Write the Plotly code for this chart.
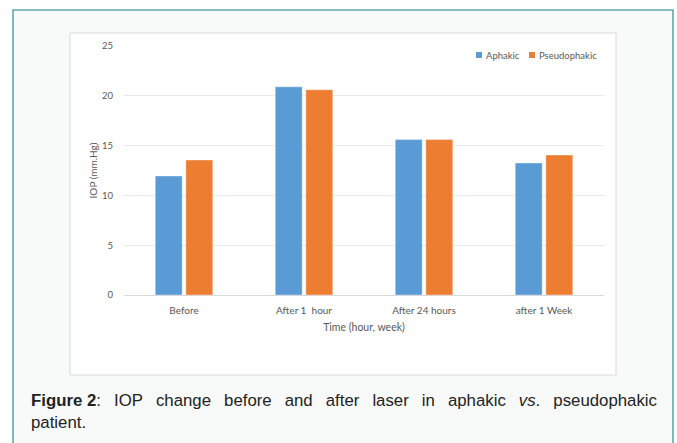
import plotly.graph_objects as go

# Intraocular pressure (mm Hg) at each time point
categories = ["Before", "After 1  hour", "After 24 hours", "after 1 Week"]
aphakic = [11.95, 20.9, 15.6, 13.25]
pseudophakic = [13.55, 20.6, 15.6, 14.05]
series_names = ["Aphakic", "Pseudophakic"]
y_ticks = [0, 5, 10, 15, 20, 25]

W, H = 677, 443
# plot-area edges in pixels
PL, PR, PT, PB = 124, 604, 46, 295


def px(x):
    return (x - PL) / (PR - PL)


def py(y):
    return (PB - y) / (PB - PT)


BLUE = "#5b9bd5"
ORANGE = "#ed7d31"
TXT = "#595959"
FONT = "Lato"

fig = go.Figure()
fig.add_trace(go.Bar(x=categories, y=aphakic, name=series_names[0],
                     marker=dict(color=BLUE, line=dict(color="rgba(255,255,255,0.35)", width=1))))
fig.add_trace(go.Bar(x=categories, y=pseudophakic, name=series_names[1],
                     marker=dict(color=ORANGE, line=dict(color="rgba(255,255,255,0.35)", width=1))))

shapes = [
    # outer figure frame
    dict(type="rect", xref="paper", yref="paper", layer="below",
         x0=px(13), x1=px(673), y0=py(450), y1=py(10),
         fillcolor="#f8fafa", line=dict(color="#62a9a8", width=1.6)),
    # chart area
    dict(type="rect", xref="paper", yref="paper", layer="below",
         x0=px(70), x1=px(616), y0=py(375), y1=py(33),
         fillcolor="white", line=dict(color="#d9d9d9", width=1)),
]

# hand-sized legend swatches
legend_items = [(476, series_names[0], BLUE), (529, series_names[1], ORANGE)]
annotations = []
for x0, name, col in legend_items:
    shapes.append(dict(type="rect", xref="paper", yref="paper",
                       x0=px(x0), x1=px(x0 + 6), y0=py(58), y1=py(52),
                       fillcolor=col, line=dict(width=0)))
    annotations.append(dict(text=name, xref="paper", yref="paper",
                            x=px(x0 + 8), y=py(55), xanchor="left", yanchor="middle",
                            showarrow=False, font=dict(family=FONT, size=9.5, color=TXT)))

# caption, first line widened to a justified look
gap = "\u2002 "
line1 = gap.join(["<b>Figure 2</b>:", "IOP", "change", "before", "and", "after", "laser",
                  "in", "aphakic", "<i>vs</i>.", "pseudophakic"])
caption = line1 + "<br>patient."
annotations.append(dict(text=caption, xref="paper", yref="paper",
                        x=px(29), y=py(389), xanchor="left", yanchor="top", align="left",
                        showarrow=False,
                        font=dict(family="Liberation Sans, Arial", size=16.8, color="#222222")))

fig.update_layout(
    width=W, height=H,
    margin=dict(l=PL, r=W - PR, t=PT, b=H - PB, pad=0),
    paper_bgcolor="white", plot_bgcolor="white",
    barmode="group", bargap=0.49, bargroupgap=0.12,
    showlegend=False,
    shapes=shapes, annotations=annotations,
    font=dict(family=FONT, color=TXT),
    xaxis=dict(showgrid=False, showline=True, linecolor="#d9d9d9", linewidth=1,
               ticks="outside", ticklen=6, tickcolor="rgba(0,0,0,0)",
               tickfont=dict(size=10, color=TXT),
               title=dict(text="Time (hour, week)", font=dict(size=10.5, color=TXT), standoff=8)),
    yaxis=dict(range=[0, 25], tickvals=y_ticks, showgrid=True, gridcolor="#e9e9e9", gridwidth=1,
               zeroline=False, showline=False, ticks="outside", ticklen=8,
               tickcolor="rgba(0,0,0,0)", tickfont=dict(size=9.5, color=TXT),
               title=dict(text="IOP (mm.Hg)", font=dict(size=10, color=TXT), standoff=2)),
)

fig.write_html("out.html")
